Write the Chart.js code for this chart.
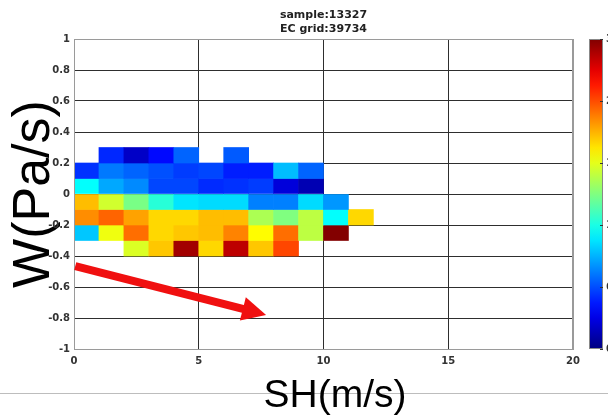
<!DOCTYPE html>
<html>
<head>
<meta charset="utf-8">
<script src="https://cdn.jsdelivr.net/npm/chart.js@4.4.0/dist/chart.umd.min.js"></script>
<style>
  html, body { margin: 0; padding: 0; background: #fff; }
  #wrap { width: 608px; height: 415px; position: relative; }
</style>
</head>
<body>
<div id="wrap"><canvas id="c"></canvas></div>
<script>
// ── Data ──────────────────────────────────────────────────────────────────
const titleLines = ['sample:13327', 'EC grid:39734'];
const xTitle = 'SH(m/s)';
const yTitle = 'W(Pa/s)';

// SH bins (left edge, m/s) and W bins (lower edge, Pa/s, top row first)
const shEdges = [0, 1, 2, 3, 4, 5, 6, 7, 8, 9, 10, 11];
const wEdges  = [0.2, 0.1, 0.0, -0.1, -0.2, -0.3, -0.4];
const binW = 1;
const binH = 0.1;

// counts per cell, one array per W row (null = empty cell)
const rowP02 = [null, 4.9, 2.1, 4.0, 6.7, null, 6.4];
const rowP01 = [5.2, 7.3, 6.7, 6.1, 5.5, 5.8, 4.6, 4.6, 9.3, 6.7];
const rowP00 = [11.3, 8.7, 7.8, 5.8, 5.8, 5.0, 5.2, 5.5, 2.7, 1.5];
const rowM01 = [20.7, 17.4, 14.8, 12.4, 10.5, 10.2, 10.2, 7.5, 7.5, 10.2, 8.2];
const rowM02 = [22.1, 23.3, 21.5, 19.9, 19.9, 20.7, 20.7, 16.3, 15.0, 16.8, 11.3, 19.9];
const rowM03 = [9.6, 18.3, 23.0, 19.9, 20.4, 20.7, 22.4, 18.8, 23.0, 16.8, 29.9];
const rowM04 = [null, null, 17.7, 20.4, 29.0, 19.9, 28.2, 20.4, 24.2];
const rows = [rowP02, rowP01, rowP00, rowM01, rowM02, rowM03, rowM04];

// colour bar
const cbMin = 0;
const cbMax = 30;
const cbTicks = [0, 6, 12, 18, 24, 30];

// red arrow annotation (data coords)
const arrowFrom = [0.05, -0.465];
const arrowTo   = [7.7, -0.78];

// ── Helpers ───────────────────────────────────────────────────────────────
function jet(t) {
  t = Math.max(0, Math.min(1, t));
  const c = x => Math.round(255 * Math.max(0, Math.min(1, 1.5 - Math.abs(x))));
  return `rgb(${c(4 * t - 3)},${c(4 * t - 2)},${c(4 * t - 1)})`;
}

const datasets = rows.map((row, r) => ({
  label: 'W ' + wEdges[r],
  data: row
    .map((v, i) => v == null ? null : { x: shEdges[i] + binW / 2, y: [wEdges[r], wEdges[r] + binH], v })
    .filter(Boolean),
  backgroundColor: ctx => ctx.raw ? jet((ctx.raw.v - cbMin) / (cbMax - cbMin)) : '#000',
  borderWidth: 0,
  grouped: false,
  barPercentage: 1,
  categoryPercentage: 1,
}));

const tickFont = { family: 'DejaVu Sans', weight: 'bold', size: 10 };
const gridDark = '#2e2e2e';
const edgeGray = '#9a9a9a';

// ── Decorations: axis titles (under), frame, colour bar, arrow (over) ─────
const decor = {
  id: 'decor',
  beforeDraw(chart) {
    const { ctx, chartArea: a } = chart;
    ctx.save();
    ctx.fillStyle = '#222';
    ctx.font = 'bold 11px "DejaVu Sans"';
    ctx.textAlign = 'center';
    ctx.textBaseline = 'middle';
    const cx = (a.left + a.right) / 2;
    ctx.fillText(titleLines[0], cx, 15);
    ctx.fillText(titleLines[1], cx, 29);

    // divider line + x title
    ctx.strokeStyle = '#bdbdbd';
    ctx.lineWidth = 1;
    ctx.beginPath();
    ctx.moveTo(0, 393.5);
    ctx.lineTo(608, 393.5);
    ctx.stroke();
    ctx.fillStyle = '#000';
    ctx.font = '39px "Liberation Sans"';
    ctx.textBaseline = 'alphabetic';
    ctx.fillText(xTitle, 335, 407);

    // y title
    ctx.translate(49, 194);
    ctx.rotate(-Math.PI / 2);
    ctx.font = '52px "Liberation Sans"';
    ctx.textAlign = 'center';
    ctx.fillText(yTitle, 0, 0);
    ctx.restore();
  },
  afterDraw(chart) {
    const { ctx, chartArea: a, scales: { x, y } } = chart;
    ctx.save();

    // plot frame
    ctx.strokeStyle = edgeGray;
    ctx.lineWidth = 1;
    ctx.strokeRect(a.left + 0.5, a.top + 0.5, a.right - a.left - 1, a.bottom - a.top);

    // colour bar
    const cbL = 589, cbR = 603;
    const grad = ctx.createLinearGradient(0, a.bottom, 0, a.top);
    for (let i = 0; i <= 20; i++) grad.addColorStop(i / 20, jet(i / 20));
    ctx.fillStyle = grad;
    ctx.fillRect(cbL, a.top, cbR - cbL, a.bottom - a.top);
    ctx.strokeStyle = '#888';
    ctx.strokeRect(cbL + 0.5, a.top + 0.5, cbR - cbL - 1, a.bottom - a.top - 1);
    ctx.strokeStyle = '#333';
    ctx.fillStyle = '#333';
    ctx.font = 'bold 10px "DejaVu Sans"';
    ctx.textAlign = 'left';
    ctx.textBaseline = 'middle';
    cbTicks.forEach(t => {
      const py = a.bottom - (t - cbMin) / (cbMax - cbMin) * (a.bottom - a.top);
      ctx.beginPath();
      ctx.moveTo(cbR - 3, Math.round(py) + 0.5);
      ctx.lineTo(cbR, Math.round(py) + 0.5);
      ctx.stroke();
      ctx.fillText(String(t), cbR + 3, py);
    });

    // arrow
    const x0 = x.getPixelForValue(arrowFrom[0]), y0 = y.getPixelForValue(arrowFrom[1]);
    const x1 = x.getPixelForValue(arrowTo[0]),   y1 = y.getPixelForValue(arrowTo[1]);
    const ang = Math.atan2(y1 - y0, x1 - x0);
    const headLen = 24, headHalf = 12;
    const bx = x1 - headLen * Math.cos(ang), by = y1 - headLen * Math.sin(ang);
    ctx.strokeStyle = '#f01010';
    ctx.fillStyle = '#f01010';
    ctx.lineWidth = 8;
    ctx.lineCap = 'butt';
    ctx.beginPath();
    ctx.moveTo(x0, y0);
    ctx.lineTo(bx + 2 * Math.cos(ang), by + 2 * Math.sin(ang));
    ctx.stroke();
    ctx.beginPath();
    ctx.moveTo(x1, y1);
    ctx.lineTo(bx + headHalf * Math.sin(ang), by - headHalf * Math.cos(ang));
    ctx.lineTo(bx - headHalf * Math.sin(ang), by + headHalf * Math.cos(ang));
    ctx.closePath();
    ctx.fill();

    ctx.restore();
  },
};

// ── Chart ─────────────────────────────────────────────────────────────────
const canvas = document.getElementById('c');
canvas.width = 608;
canvas.height = 415;

new Chart(canvas.getContext('2d'), {
  type: 'bar',
  data: { datasets },
  options: {
    responsive: false,
    animation: false,
    layout: { padding: { top: 39, right: 35, left: 0, bottom: 0 } },
    plugins: {
      legend: { display: false },
      tooltip: { enabled: false },
      title: { display: false },
    },
    scales: {
      x: {
        type: 'linear',
        min: 0,
        max: 20,
        offset: false,
        z: 1,
        ticks: { stepSize: 5, color: '#333', font: tickFont, padding: 6, maxRotation: 0 },
        grid: {
          offset: false,
          color: ctx => (ctx.tick && (ctx.tick.value === 0 || ctx.tick.value === 20)) ? edgeGray : gridDark,
          drawTicks: false,
        },
        border: { color: edgeGray },
        afterFit: s => { s.height = 66; },
      },
      y: {
        type: 'linear',
        min: -1,
        max: 1,
        z: 1,
        ticks: {
          stepSize: 0.2,
          color: '#333',
          font: tickFont,
          padding: 4,
          callback: v => String(+v.toFixed(1)),
        },
        grid: {
          color: ctx => (ctx.tick && Math.abs(Math.abs(ctx.tick.value) - 1) < 1e-9) ? edgeGray : gridDark,
          drawTicks: false,
        },
        border: { color: edgeGray },
        afterFit: s => { s.width = 74; },
      },
    },
  },
  plugins: [decor],
});
</script>
</body>
</html>
